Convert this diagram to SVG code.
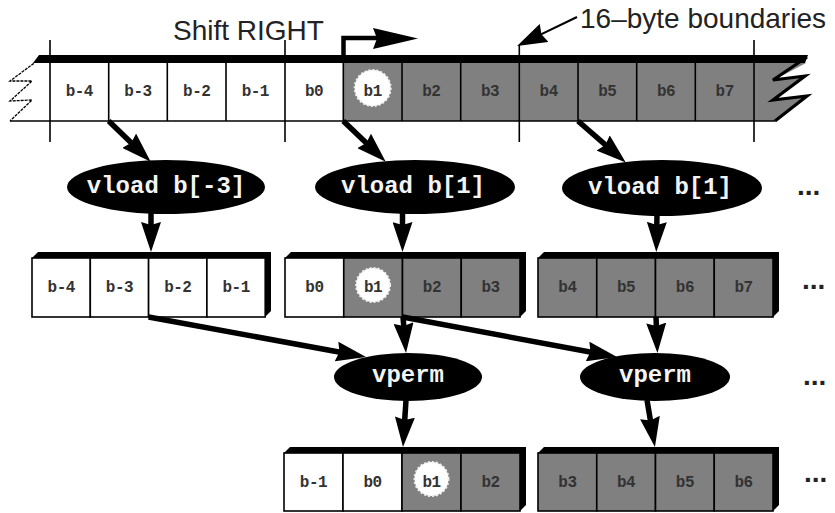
<svg xmlns="http://www.w3.org/2000/svg" width="835" height="513" viewBox="0 0 835 513">
  <style>
    .cell { stroke: #000; stroke-width: 1.6; }
    .w { fill: #fff; }
    .g { fill: #808080; }
    .lbl { font-family: "Liberation Mono", "DejaVu Sans Mono", monospace; font-size: 16px; font-weight: bold; letter-spacing: -0.5px; fill: #333; text-anchor: middle; }
    .op { fill: #000; }
    .optxt { font-family: "Liberation Mono", "DejaVu Sans Mono", monospace; font-size: 24px; font-weight: bold; fill: #f4f4f4; text-anchor: middle; }
    .hl { fill: #fff; stroke: #f0f0f0; stroke-width: 2; stroke-dasharray: 2 2; }
    .shadow { fill: #000; }
    .tick { stroke: #000; stroke-width: 1.6; fill: none; }
    .conn { stroke: #000; stroke-width: 5.5; fill: none; marker-end: url(#head); }
    .note { font-family: "Liberation Sans", Arial, sans-serif; font-size: 28px; fill: #222; }
    .dots { font-family: "Liberation Sans", Arial, sans-serif; font-size: 28px; font-weight: bold; fill: #222; }
  </style>
  <defs>
    <marker id="head" markerUnits="userSpaceOnUse" viewBox="0 0 30 20" markerWidth="30" markerHeight="20" refX="19" refY="10" orient="auto">
      <path d="M0,0 L30,10 L0,20 L3,10 z" fill="#000"/>
    </marker>
  </defs>

  <!-- memory strip: b-4 .. b7, with 16-byte boundary ticks -->
  <g id="memory">
    <polygon class="g" points="343.3,63 806,63 774,80 804,77 774,100 806,96 775,121 343.3,121"/>
    <rect class="w" x="50" y="63" width="293.3" height="58"/>
    <g class="cell" fill="none">
      <line x1="10" y1="121" x2="775" y2="121"/>
      <line x1="108.7" y1="63" x2="108.7" y2="121"/>
      <line x1="167.3" y1="63" x2="167.3" y2="121"/>
      <line x1="226" y1="63" x2="226" y2="121"/>
      <line x1="343.3" y1="63" x2="343.3" y2="121"/>
      <line x1="402" y1="63" x2="402" y2="121"/>
      <line x1="460.7" y1="63" x2="460.7" y2="121"/>
      <line x1="578" y1="63" x2="578" y2="121"/>
      <line x1="636.7" y1="63" x2="636.7" y2="121"/>
      <line x1="695.3" y1="63" x2="695.3" y2="121"/>
    </g>
    <!-- torn ends -->
    <polyline points="37,61 10,81 32,81 10,101 32,100 10,121" fill="none" stroke="#000" stroke-width="1.3" stroke-dasharray="3 1"/>
    <polyline points="807,57 773,80 805,76 773,100 807,96 775,121" fill="none" stroke="#000" stroke-width="3.2" stroke-linejoin="miter"/>
    <polygon points="39,55 808,55 805,63 33,63" fill="#000"/>
    <!-- 16-byte boundaries -->
    <line class="tick" x1="50" y1="40" x2="50" y2="142"/>
    <line class="tick" x1="285" y1="40" x2="285" y2="142"/>
    <line class="tick" x1="519.3" y1="45" x2="519.3" y2="142"/>
    <line class="tick" x1="754" y1="40" x2="754" y2="142"/>
    <circle class="hl" cx="372.7" cy="88" r="18"/>
    <text class="lbl" x="79.3" y="96">b-4</text>
    <text class="lbl" x="138" y="96">b-3</text>
    <text class="lbl" x="196.7" y="96">b-2</text>
    <text class="lbl" x="255.3" y="96">b-1</text>
    <text class="lbl" x="314" y="96">b0</text>
    <text class="lbl" x="372.7" y="96">b1</text>
    <text class="lbl" x="431.3" y="96">b2</text>
    <text class="lbl" x="490" y="96">b3</text>
    <text class="lbl" x="548.7" y="96">b4</text>
    <text class="lbl" x="607.3" y="96">b5</text>
    <text class="lbl" x="666" y="96">b6</text>
    <text class="lbl" x="724.7" y="96">b7</text>
  </g>

  <g id="shift-right">
    <text class="note" x="173" y="40">Shift RIGHT</text>
    <path d="M343.5,57 V38 H380" fill="none" stroke="#000" stroke-width="4.5"/>
    <polygon points="373,28 418,38.5 373,49 377,38.5" fill="#000"/>
  </g>

  <g id="boundary-note">
    <text class="note" x="580" y="28">16–byte boundaries</text>
    <line x1="577" y1="17" x2="527" y2="41.2" stroke="#000" stroke-width="2" marker-end="url(#head)"/>
  </g>

  <!-- vector loads -->
  <g id="vload-1">
    <ellipse class="op" cx="166" cy="187" rx="99" ry="27"/>
    <text class="optxt" x="166" y="193">vload b[-3]</text>
  </g>
  <g id="vload-2">
    <ellipse class="op" cx="415" cy="187" rx="100" ry="27"/>
    <text class="optxt" x="413" y="193">vload b[1]</text>
  </g>
  <g id="vload-3">
    <ellipse class="op" cx="662" cy="188" rx="100" ry="28"/>
    <text class="optxt" x="660" y="194">vload b[1]</text>
  </g>

  <!-- loaded vector registers -->
  <g id="reg-1">
    <polygon class="shadow" points="32,258 38,252 271,252 271,311 265,317"/>
    <rect class="cell w" x="32" y="258" width="58.3" height="59"/>
    <rect class="cell w" x="90.3" y="258" width="58.3" height="59"/>
    <rect class="cell w" x="148.6" y="258" width="58.3" height="59"/>
    <rect class="cell w" x="206.9" y="258" width="58.3" height="59"/>
    <text class="lbl" x="61.2" y="292">b-4</text>
    <text class="lbl" x="119.5" y="292">b-3</text>
    <text class="lbl" x="177.8" y="292">b-2</text>
    <text class="lbl" x="236.1" y="292">b-1</text>
  </g>
  <g id="reg-2">
    <polygon class="shadow" points="285,258 291,252 526,252 526,311 520,317"/>
    <rect class="cell w" x="285" y="258" width="58.75" height="59"/>
    <rect class="cell g" x="343.75" y="258" width="58.75" height="59"/>
    <rect class="cell g" x="402.5" y="258" width="58.75" height="59"/>
    <rect class="cell g" x="461.25" y="258" width="58.75" height="59"/>
    <circle class="hl" cx="373.1" cy="285" r="17"/>
    <text class="lbl" x="314.4" y="292">b0</text>
    <text class="lbl" x="373.1" y="292">b1</text>
    <text class="lbl" x="431.9" y="292">b2</text>
    <text class="lbl" x="490.6" y="292">b3</text>
  </g>
  <g id="reg-3">
    <polygon class="shadow" points="538,258 544,252 779,252 779,311 773,317"/>
    <rect class="cell g" x="538" y="258" width="58.75" height="59"/>
    <rect class="cell g" x="596.75" y="258" width="58.75" height="59"/>
    <rect class="cell g" x="655.5" y="258" width="58.75" height="59"/>
    <rect class="cell g" x="714.25" y="258" width="58.75" height="59"/>
    <text class="lbl" x="567.4" y="292">b4</text>
    <text class="lbl" x="626.1" y="292">b5</text>
    <text class="lbl" x="684.9" y="292">b6</text>
    <text class="lbl" x="743.6" y="292">b7</text>
  </g>

  <!-- permutes -->
  <g id="vperm-1">
    <ellipse class="op" cx="408" cy="377" rx="74" ry="24"/>
    <text class="optxt" x="408" y="382">vperm</text>
  </g>
  <g id="vperm-2">
    <ellipse class="op" cx="655" cy="377" rx="75" ry="24"/>
    <text class="optxt" x="655" y="382">vperm</text>
  </g>

  <!-- shifted result registers -->
  <g id="out-1">
    <polygon class="shadow" points="284,453 290,447 526,447 526,505 520,511"/>
    <rect class="cell w" x="284" y="453" width="59" height="58"/>
    <rect class="cell w" x="343" y="453" width="59" height="58"/>
    <rect class="cell g" x="402" y="453" width="59" height="58"/>
    <rect class="cell g" x="461" y="453" width="59" height="58"/>
    <circle class="hl" cx="431.5" cy="479" r="17"/>
    <text class="lbl" x="313.5" y="487">b-1</text>
    <text class="lbl" x="372.5" y="487">b0</text>
    <text class="lbl" x="431.5" y="487">b1</text>
    <text class="lbl" x="490.5" y="487">b2</text>
  </g>
  <g id="out-2">
    <polygon class="shadow" points="538,453 544,447 779,447 779,505 773,511"/>
    <rect class="cell g" x="538" y="453" width="58.75" height="58"/>
    <rect class="cell g" x="596.75" y="453" width="58.75" height="58"/>
    <rect class="cell g" x="655.5" y="453" width="58.75" height="58"/>
    <rect class="cell g" x="714.25" y="453" width="58.75" height="58"/>
    <text class="lbl" x="567.4" y="487">b3</text>
    <text class="lbl" x="626.1" y="487">b4</text>
    <text class="lbl" x="684.9" y="487">b5</text>
    <text class="lbl" x="743.6" y="487">b6</text>
  </g>

  <g id="continuation">
    <text class="dots" x="797" y="195">...</text>
    <text class="dots" x="802" y="289">...</text>
    <text class="dots" x="803" y="385">...</text>
    <text class="dots" x="804" y="482">...</text>
  </g>

  <g id="connectors">
    <line class="conn" x1="108.7" y1="121" x2="142.8" y2="154"/>
    <line class="conn" x1="343.3" y1="121" x2="377.8" y2="154.1"/>
    <line class="conn" x1="578" y1="121" x2="617.5" y2="155.4"/>
    <line class="conn" x1="151" y1="213" x2="151" y2="241"/>
    <line class="conn" x1="402.5" y1="213" x2="402.5" y2="241"/>
    <line class="conn" x1="657" y1="214" x2="656.5" y2="241"/>
    <line class="conn" x1="148.6" y1="317" x2="355.2" y2="355"/>
    <line class="conn" x1="402.5" y1="317" x2="606.2" y2="355"/>
    <line class="conn" x1="403" y1="317" x2="405.1" y2="342"/>
    <line class="conn" x1="656" y1="317" x2="657" y2="342"/>
    <line class="conn" x1="406" y1="400" x2="403.7" y2="436"/>
    <line class="conn" x1="647" y1="400" x2="653.1" y2="436.2"/>
  </g>
</svg>
